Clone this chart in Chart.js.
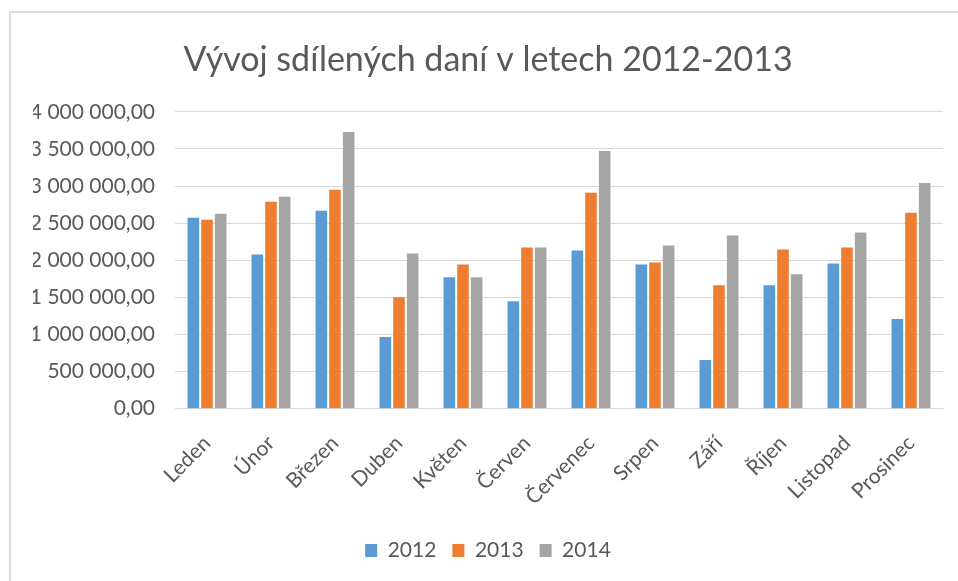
<!DOCTYPE html>
<html>
<head>
<meta charset="utf-8">
<script src="https://cdn.jsdelivr.net/npm/chart.js@4.4.1/dist/chart.umd.min.js"></script>
<style>
  html, body { margin: 0; padding: 0; background: #fff; overflow: hidden; width: 958px; height: 581px; }
  #frame { position: absolute; left: 9px; top: 11px; width: 960px; height: 580px; border-left: 2px solid #dcdcdc; border-top: 2px solid #dcdcdc; }
  #wrap { position: absolute; left: 9px; top: 12px; width: 958px; height: 569px; }
</style>
</head>
<body>
<div id="frame"></div>
<div id="wrap"><canvas id="taxChart" width="958" height="569"></canvas></div>
<script>
// Sdílené daně podle měsíců
const months = ['Leden', 'Únor', 'Březen', 'Duben', 'Květen', 'Červen', 'Červenec', 'Srpen', 'Září', 'Říjen', 'Listopad', 'Prosinec'];
const years = ['2012', '2013', '2014'];
const values2012 = [2574000, 2078000, 2667000, 965000, 1769000, 1448000, 2131000, 1944000, 657000, 1662000, 1957000, 1207000];
const values2013 = [2547000, 2788000, 2949000, 1501000, 1944000, 2172000, 2909000, 1971000, 1662000, 2145000, 2172000, 2640000];
const values2014 = [2627000, 2855000, 3727000, 2091000, 1769000, 2172000, 3472000, 2198000, 2332000, 1810000, 2372000, 3042000];
const yTicks = [0, 500000, 1000000, 1500000, 2000000, 2500000, 3000000, 3500000, 4000000];

const colors = ['#5b9bd5', '#ed7d31', '#a5a5a5'];
const textColor = '#595959';

function formatCz(v) {
    const s = Math.round(v).toString().replace(/\B(?=(\d{3})+(?!\d))/g, ' ');
    return s + ',00';
}

document.addEventListener('DOMContentLoaded', function() {
    const ctx = document.getElementById('taxChart').getContext('2d');
    const series = [values2012, values2013, values2014];
    new Chart(ctx, {
        type: 'bar',
        data: {
            labels: months,
            datasets: years.map((y, i) => ({
                label: y,
                data: series[i],
                backgroundColor: colors[i],
                borderWidth: 0,
                categoryPercentage: 0.64,
                barPercentage: 0.85
            }))
        },
        options: {
            responsive: false,
            animation: false,
            layout: { padding: { left: 24, right: 24, top: 0, bottom: 10 } },
            scales: {
                y: {
                    min: 0,
                    max: 4000000,
                    afterBuildTicks: axis => { axis.ticks = yTicks.map(v => ({ value: v })); },
                    // fixed width so the plot starts where the original does
                    afterFit: axis => { axis.width = 142; },
                    border: { display: false },
                    grid: { color: '#d9d9d9', lineWidth: 1, drawTicks: false },
                    ticks: {
                        color: textColor,
                        font: { family: 'Lato', size: 21 },
                        padding: 20,
                        callback: v => formatCz(v)
                    }
                },
                x: {
                    border: { color: '#d9d9d9' },
                    grid: { display: false },
                    ticks: {
                        color: textColor,
                        font: { family: 'Lato', size: 21 },
                        minRotation: 45,
                        maxRotation: 45,
                        padding: 14
                    }
                }
            },
            plugins: {
                title: {
                    display: true,
                    text: 'Vývoj sdílených daní v letech 2012-2013',
                    color: textColor,
                    font: { family: 'Lato', size: 34, weight: 'normal' },
                    padding: { top: 28, bottom: 31 }
                },
                legend: {
                    position: 'bottom',
                    labels: {
                        color: textColor,
                        font: { family: 'Lato', size: 21 },
                        boxWidth: 12,
                        boxHeight: 13,
                        padding: 16
                    }
                },
                tooltip: { enabled: false }
            }
        }
    });
});
</script>
</body>
</html>
